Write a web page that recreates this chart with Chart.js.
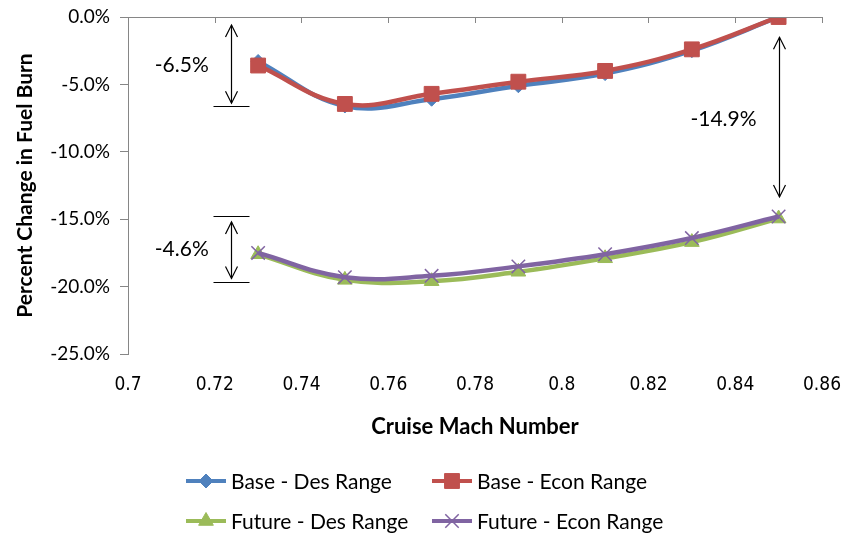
<!DOCTYPE html>
<html>
<head>
<meta charset="utf-8">
<script src="https://cdn.jsdelivr.net/npm/chart.js@4"></script>
<style>
    html, body { margin: 0; padding: 0; background: #fff; }
    #wrap { width: 853px; height: 537px; }
</style>
</head>
<body>
<div id="wrap"><canvas id="fuelChart" width="853" height="537"></canvas></div>
<script>
// Cruise Mach numbers (x) and percent change in fuel burn (y)
const machNumbers = [0.73, 0.75, 0.77, 0.79, 0.81, 0.83, 0.85];
const baseDes = [-3.3, -6.6, -6.1, -5.1, -4.2, -2.5, 0.0];
const baseEcon = [-3.6, -6.45, -5.7, -4.8, -4.0, -2.4, 0.0];
const futureDes = [-17.6, -19.5, -19.6, -18.9, -17.9, -16.7, -14.95];
const futureEcon = [-17.5, -19.3, -19.2, -18.5, -17.6, -16.4, -14.8];

const seriesNames = ["Base - Des Range", "Base - Econ Range", "Future - Des Range", "Future - Econ Range"];
const xTicks = [0.7, 0.72, 0.74, 0.76, 0.78, 0.8, 0.82, 0.84, 0.86];
const yTicks = [0, -5, -10, -15, -20, -25];

// Delta annotations, in data units
const spanNotes = [
    { label: "-6.5%", x: 0.7238, top: -0.6, bottom: -6.4, capTop: null, capBottom: -6.6, labelX: 0.7124, labelY: -3.6 },
    { label: "-4.6%", x: 0.7238, top: -15.2, bottom: -19.4, capTop: -14.75, capBottom: -19.65, labelX: 0.7124, labelY: -17.2 },
    { label: "-14.9%", x: 0.85, top: -1.5, bottom: -13.35, capTop: null, capBottom: null, labelX: 0.8373, labelY: -7.6 },
];

const FONT = "Lato, 'Open Sans', sans-serif";
const NARROW = "'Liberation Sans Narrow', 'DejaVu Sans Condensed', Lato, sans-serif";
const AXIS_GRAY = "#868686";

const toPoints = (ys) => machNumbers.map((m, i) => ({ x: m, y: ys[i] }));

/*
 * Arrow helper */
const drawArrowHead = (ctx, x, y, dir) => {
    ctx.beginPath();
    ctx.moveTo(x - 6, y + dir * 12);
    ctx.lineTo(x, y);
    ctx.lineTo(x + 6, y + dir * 12);
    ctx.stroke();
};

/*
 * Marker for the legend samples */
const drawMarker = (ctx, ds, x, y) => {
    ctx.save();
    ctx.fillStyle = ds.pointBackgroundColor;
    ctx.strokeStyle = ds.pointBorderColor;
    ctx.lineWidth = ds.pointBorderWidth;
    Chart.helpers.drawPoint(ctx, {
        pointStyle: ds.pointStyle,
        radius: ds.pointRadius,
        borderWidth: ds.pointBorderWidth,
    }, x, y);
    ctx.restore();
};

/*
 * Top axis line, annotations and legend */
const extrasPlugin = {
    id: "extras",
    afterDatasetsDraw(chart) {
        const { ctx, chartArea, scales } = chart;
        const xs = scales.x, ys = scales.y;
        ctx.save();

        // x axis line sits at 0% (top of plot)
        ctx.strokeStyle = AXIS_GRAY;
        ctx.lineWidth = 1;
        ctx.beginPath();
        ctx.moveTo(chartArea.left, chartArea.top + 0.5);
        ctx.lineTo(chartArea.right, chartArea.top + 0.5);
        ctx.stroke();
        xTicks.forEach((t) => {
            const px = Math.round(xs.getPixelForValue(t)) + 0.5;
            ctx.beginPath();
            ctx.moveTo(px, chartArea.top);
            ctx.lineTo(px, chartArea.top + 6);
            ctx.stroke();
        });

        // spans with arrows
        ctx.strokeStyle = "#000";
        ctx.fillStyle = "#000";
        ctx.lineWidth = 1.2;
        ctx.font = "21px " + FONT;
        ctx.textAlign = "center";
        ctx.textBaseline = "middle";
        spanNotes.forEach((n) => {
            const px = Math.round(xs.getPixelForValue(n.x)) + 0.5;
            const y1 = ys.getPixelForValue(n.top);
            const y2 = ys.getPixelForValue(n.bottom);
            ctx.beginPath();
            ctx.moveTo(px, y1);
            ctx.lineTo(px, y2);
            ctx.stroke();
            drawArrowHead(ctx, px, y1, 1);
            drawArrowHead(ctx, px, y2, -1);
            [n.capTop, n.capBottom].forEach((c) => {
                if (c === null) return;
                const cy = Math.round(ys.getPixelForValue(c)) + 0.5;
                ctx.beginPath();
                ctx.moveTo(px - 18, cy);
                ctx.lineTo(px + 18, cy);
                ctx.stroke();
            });
            ctx.fillText(n.label, xs.getPixelForValue(n.labelX), ys.getPixelForValue(n.labelY));
        });

        // legend, two rows of two
        const cols = [186, 432];
        const rows = [481, 521];
        ctx.textAlign = "left";
        ctx.font = "21px " + FONT;
        chart.data.datasets.forEach((ds, i) => {
            const lx = cols[i % 2];
            const ly = rows[Math.floor(i / 2)];
            ctx.strokeStyle = ds.borderColor;
            ctx.lineWidth = 4;
            ctx.beginPath();
            ctx.moveTo(lx, ly);
            ctx.lineTo(lx + 40, ly);
            ctx.stroke();
            drawMarker(ctx, ds, lx + 20, ly);
            ctx.fillStyle = "#000";
            ctx.fillText(ds.label, lx + 45, ly + 1);
        });
        ctx.restore();
    },
};

const makeSeries = (label, ys, color, style, radius, borderW, order) => ({
    label: label,
    data: toPoints(ys),
    borderColor: color,
    backgroundColor: color,
    pointBackgroundColor: color,
    pointBorderColor: color,
    pointStyle: style,
    pointRadius: radius,
    pointBorderWidth: borderW,
    borderWidth: 4.5,
    tension: 0.4,
    showLine: true,
    order: order,
});

new Chart(document.getElementById("fuelChart"), {
    type: "scatter",
    data: {
        datasets: [
            makeSeries(seriesNames[0], baseDes, "#4F81BD", "rectRot", 7, 1, 2),
            makeSeries(seriesNames[1], baseEcon, "#C0504D", "rect", 10.5, 1, 1),
            makeSeries(seriesNames[2], futureDes, "#9BBB59", "triangle", 8.5, 1, 2),
            makeSeries(seriesNames[3], futureEcon, "#8064A2", "crossRot", 9.5, 1.5, 1),
        ],
    },
    plugins: [extrasPlugin],
    options: {
        responsive: false,
        animation: false,
        layout: { padding: { left: 9, right: 15, top: 17, bottom: 93 } },
        plugins: {
            legend: { display: false },
            tooltip: { enabled: false },
        },
        scales: {
            x: {
                type: "linear",
                min: 0.7,
                max: 0.86,
                afterBuildTicks: (scale) => {
                    scale.ticks = xTicks.map((v) => ({ value: v }));
                },
                afterFit: (scale) => { scale.height = 90; },
                grid: { display: false },
                border: { display: false },
                ticks: {
                    padding: 12,
                    color: "#000",
                    font: { family: NARROW, size: 19 },
                    callback: (v) => String(Number(v.toFixed(2))),
                },
                title: {
                    display: true,
                    text: "Cruise Mach Number",
                    color: "#000",
                    font: { family: FONT, size: 22, weight: "bold" },
                    padding: { top: 6 },
                },
            },
            y: {
                min: -25,
                max: 0,
                afterBuildTicks: (scale) => {
                    scale.ticks = yTicks.map((v) => ({ value: v }));
                },
                afterFit: (scale) => {
                    scale.width = 119;
                    scale.paddingTop = 0;
                    scale.paddingBottom = 0;
                },
                grid: { drawOnChartArea: false, drawTicks: true, tickLength: 8, color: AXIS_GRAY },
                border: { display: true, color: AXIS_GRAY },
                ticks: {
                    padding: 10,
                    color: "#000",
                    font: { family: FONT, size: 19 },
                    callback: (v) => v.toFixed(1) + "%",
                },
                title: {
                    display: true,
                    text: "Percent Change in Fuel Burn",
                    color: "#000",
                    font: { family: FONT, size: 21, weight: "bold" },
                    padding: { bottom: 2 },
                },
            },
        },
    },
});
</script>
</body>
</html>
